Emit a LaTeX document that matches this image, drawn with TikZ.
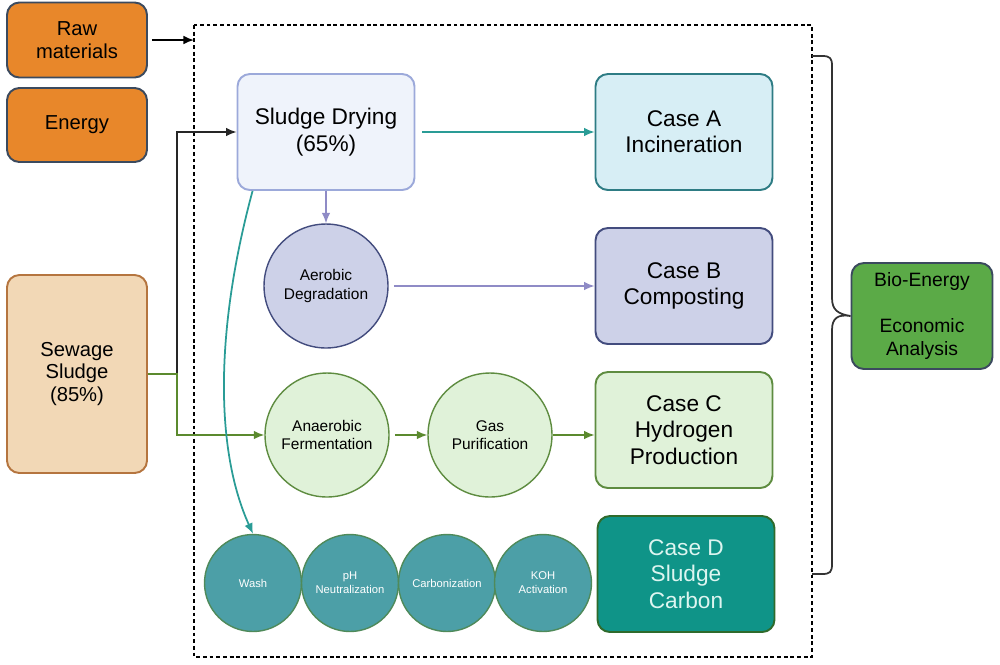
\documentclass[tikz,border=0pt]{standalone}
\usepackage{fontspec}
\setmainfont{Liberation Sans}
\usetikzlibrary{arrows.meta,calc}

\definecolor{orangeFill}{HTML}{E8872A}
\definecolor{slateLine}{HTML}{3B4A5E}
\definecolor{peachFill}{HTML}{F2D8B6}
\definecolor{peachLine}{HTML}{B5753F}
\definecolor{dryFill}{HTML}{EFF3FB}
\definecolor{dryLine}{HTML}{9CA9DA}
\definecolor{aFill}{HTML}{D7EEF5}
\definecolor{aLine}{HTML}{2E7C84}
\definecolor{bFill}{HTML}{CDD1E8}
\definecolor{bLine}{HTML}{434C7E}
\definecolor{cFill}{HTML}{E0F2D9}
\definecolor{cLine}{HTML}{5E8C40}
\definecolor{dFill}{HTML}{0F9488}
\definecolor{dLine}{HTML}{2F6B2C}
\definecolor{dText}{HTML}{DDF5F0}
\definecolor{washFill}{HTML}{4C9FA7}
\definecolor{washLine}{HTML}{4F8A5A}
\definecolor{bioFill}{HTML}{5BAA47}
\definecolor{tealArrow}{HTML}{2A9C96}
\definecolor{purpleArrow}{HTML}{8F8BC6}
\definecolor{greenArrow}{HTML}{5B8A2E}

\newcommand\casefont{\fontsize{12.9}{15}\selectfont}
\newcommand\sidefont{\fontsize{11.5}{13}\selectfont}
\newcommand\biofont{\fontsize{11}{13}\selectfont}
\newcommand\stepfont{\fontsize{8.8}{10.6}\selectfont}
\newcommand\washfont{\fontsize{6.4}{8}\selectfont}

\tikzset{
  box/.style={draw, rounded corners=7pt, line width=1.1pt, align=center, inner sep=0pt},
  sidebox/.style={box, fill=orangeFill, draw=slateLine, minimum width=2.8cm, font=\sidefont},
  casebox/.style={box, minimum width=3.54cm, minimum height=2.32cm, font=\casefont},
  stepcirc/.style={circle, draw, line width=0.8pt, align=center, inner sep=0pt, minimum size=2.48cm, font=\stepfont},
  washcirc/.style={circle, draw=washLine, fill=washFill, text=white, line width=0.8pt, align=center, inner sep=0pt, minimum size=1.94cm, font=\washfont},
  arr/.style={-{Latex[length=6pt,width=5pt]}, line width=1pt}
}

\begin{document}
\begin{tikzpicture}[x=0.02cm, y=-0.02cm]
\useasboundingbox (0,0) rectangle (1000,664);
% Inputs
    \node[sidebox, minimum height=1.5cm] (raw) at (77,40) {Raw\\materials};
    \node[sidebox, minimum height=1.48cm] (energy) at (77,125) {Energy};
    \node[box, fill=peachFill, draw=peachLine, minimum width=2.8cm, minimum height=3.96cm, font=\sidefont] (sewage) at (77,374) {Sewage\\Sludge\\(85\%)};
% System boundary
    \draw[line width=1.2pt, dash pattern=on 2.2pt off 1.6pt] (194,25) rectangle (812,657);
% Pretreatment and routes
    \node[casebox, fill=dryFill, draw=dryLine] (dry) at (326,132) {Sludge Drying\\(65\%)};
    \node[stepcirc, fill=bFill, draw=bLine] (aer) at (326,286) {Aerobic\\Degradation};
    \node[stepcirc, fill=cFill, draw=cLine] (anaer) at (327,435) {Anaerobic\\Fermentation};
    \node[stepcirc, fill=cFill, draw=cLine] (gas) at (490,435) {Gas\\Purification};
    \node[washcirc] (wash) at (253,583) {Wash};
    \node[washcirc] (ph) at (350,583) {pH\\Neutralization};
    \node[washcirc] (carb) at (447,583) {Carbonization};
    \node[washcirc] (koh) at (543,583) {KOH\\Activation};
% Cases
    \node[casebox, fill=aFill, draw=aLine] (caseA) at (684,132) {Case A\\Incineration};
    \node[casebox, fill=bFill, draw=bLine] (caseB) at (684,286) {Case B\\Composting};
    \node[casebox, fill=cFill, draw=cLine] (caseC) at (684,430) {Case C\\Hydrogen\\Production};
    \node[casebox, fill=dFill, draw=dLine, text=dText] (caseD) at (686,574) {Case D\\Sludge\\Carbon};
% Analysis
    \node[box, fill=bioFill, draw=slateLine, minimum width=2.82cm, minimum height=2.12cm, font=\biofont] (bio) at (922,316) {Bio-Energy\\[13pt]Economic\\Analysis};
    \draw[line width=1pt, draw=black!80] (812,56) -- (822,56) .. controls (830,56) and (832,58) .. (832,66)
        -- (832,298) .. controls (832,310) and (838,314) .. (bio.west)
        .. controls (838,314) and (832,318) .. (832,330)
        -- (832,564) .. controls (832,572) and (830,574) .. (822,574) -- (812,574);
% Connectors
    \coordinate (split) at (177,374);
    \coordinate (frameIn) at (194,40);
    \draw[arr] (raw.east) ++(4,0) -- (frameIn);
    \draw[arr, draw=black!85] (split) |- (dry.west);
    \draw[arr, draw=greenArrow] (sewage.east) -- (split) |- (anaer.west);
    \draw[arr, draw=tealArrow, shorten <=4pt] (dry.east) -- (caseA.west);
    \draw[arr, draw=purpleArrow] (dry.south) -- (aer.north);
    \draw[arr, draw=purpleArrow, shorten <=3pt] (aer.east) -- (caseB.west);
    \draw[arr, draw=greenArrow, shorten <=3pt] (anaer.east) -- (gas.west);
    \draw[arr, draw=greenArrow] (gas.east) -- (gas.east -| caseC.west);
    \draw[arr, draw=tealArrow] ($(dry.south west)+(16,0)$) .. controls (215,330) and (215,450) .. (wash.north);
\end{tikzpicture}
\end{document}
